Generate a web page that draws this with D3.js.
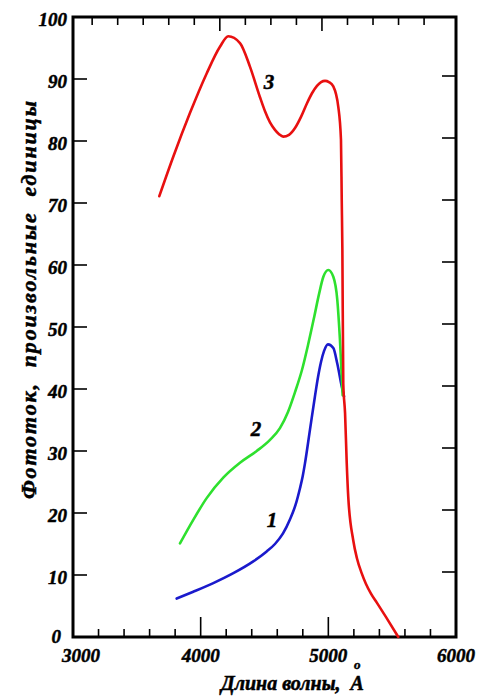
<!DOCTYPE html>
<html>
<head>
<meta charset="utf-8">
<script src="https://cdn.jsdelivr.net/npm/d3@7"></script>
<style>
  body { margin: 0; background: #fff; }
  text { font-family: "Liberation Serif", "Times New Roman", serif; font-weight: bold; font-style: italic; fill: #000; stroke: #000; stroke-width: 0.5px; }
</style>
</head>
<body>
<script>
var w = 477,
    h = 697;

// curve 1 (blue)
var wave1 = [3812, 3942, 4099, 4256, 4412, 4517, 4582, 4645, 4700, 4743, 4778, 4798, 4817, 4856, 4895, 4919, 4943, 4966, 4997, 5039, 5070, 5105, 5123];
var phot1 = [6.2, 7.3, 8.7, 10.3, 12.2, 13.8, 15.0, 16.7, 19.0, 21.3, 24.0, 25.8, 28.0, 33.4, 38.8, 41.9, 44.4, 46.1, 47.2, 46.6, 44.1, 40.4, 38.8];

// curve 2 (green)
var wave2 = [3838, 3942, 4047, 4177, 4308, 4439, 4543, 4621, 4684, 4739, 4794, 4841, 4888, 4927, 4961, 5000, 5039, 5070, 5091, 5112];
var phot2 = [15.1, 18.9, 22.4, 25.7, 28.1, 30.0, 31.8, 33.7, 36.3, 39.5, 43.1, 47.1, 51.5, 55.3, 58.1, 59.2, 58.1, 54.4, 47.9, 39.0];

// curve 3 (red)
var wave3 = [3676, 3786, 3916, 4047, 4151, 4216, 4308, 4386, 4464, 4504, 4543, 4582, 4614, 4647, 4692, 4739, 4786, 4833, 4872, 4911, 4943, 4974, 5005, 5039, 5078, 5099, 5105, 5110, 5117, 5131, 5144, 5156, 5195, 5224, 5261, 5295, 5334, 5381, 5452, 5548];
var phot3 = [71.1, 77.5, 84.5, 90.9, 95.2, 96.9, 95.8, 92.0, 87.1, 84.8, 83.0, 81.8, 81.1, 80.7, 81.0, 82.1, 83.9, 86.1, 87.7, 88.9, 89.5, 89.7, 89.5, 88.8, 85.5, 80.2, 70.5, 62.4, 40.9, 36.1, 28.1, 22.6, 15.6, 12.7, 10.3, 8.55, 7.0, 5.5, 3.2, 0.0];

var curveNames = ["1", "2", "3"];
var curveColors = ["#1a1acc", "#2ee02e", "#e81010"];
var labelWave = [4558, 4433, 4535];
var labelPhot = [17.7, 32.4, 88.4];

var yTickValues = [0, 10, 20, 30, 40, 50, 60, 70, 80, 90, 100];
var xTickLabels = [3000, 4000, 5000, 6000];
var xMinorTicks = [3200, 3400, 3600, 3800, 4200, 4400, 4600, 4800, 5200, 5400, 5600, 5800];
var topTicks = [3150, 3350, 3550, 3750, 3950, 4150, 4350, 4550, 4750, 4950, 5150, 5350, 5550, 5750];
var topMajor = [4150, 4950];

var xTitle = "Длина волны,  A";
var yTitle = "Фототок,  произвольные  единицы";

var svg = d3.select("body").append("svg").attr("width", w).attr("height", h);

var x = d3.scaleLinear().domain([3000, 6000]).range([73, 456]);
var y = d3.scaleLinear().domain([0, 100]).range([637, 17]);

var series = [
  d3.zip(wave1, phot1),
  d3.zip(wave2, phot2),
  d3.zip(wave3, phot3)
];

var line = d3.line()
  .x(function(d) { return x(d[0]); })
  .y(function(d) { return y(d[1]); })
  .curve(d3.curveMonotoneX);

// ticks
var tk = svg.append("g").attr("stroke", "#000").attr("stroke-width", 1.6);

tk.selectAll(".yl").data(yTickValues).enter().append("line")
  .attr("x1", x(3000)).attr("x2", x(3000) + 14)
  .attr("y1", function(d) { return y(d); }).attr("y2", function(d) { return y(d); });

tk.selectAll(".yr").data(yTickValues.slice(1, -1)).enter().append("line")
  .attr("x1", x(6000)).attr("x2", x(6000) - 14)
  .attr("y1", function(d) { return y(d) - 3; }).attr("y2", function(d) { return y(d) - 3; });

tk.selectAll(".xb").data(xTickLabels.slice(1, -1)).enter().append("line")
  .attr("x1", function(d) { return x(d); }).attr("x2", function(d) { return x(d); })
  .attr("y1", y(0)).attr("y2", y(0) - 20);

tk.selectAll(".xm").data(xMinorTicks).enter().append("line")
  .attr("x1", function(d) { return x(d); }).attr("x2", function(d) { return x(d); })
  .attr("y1", y(0)).attr("y2", y(0) - 8);

tk.selectAll(".xt").data(topTicks).enter().append("line")
  .attr("x1", function(d) { return x(d); }).attr("x2", function(d) { return x(d); })
  .attr("y1", y(100))
  .attr("y2", function(d) { return y(100) + (topMajor.indexOf(d) >= 0 ? 14 : 8); });

// frame
svg.append("rect")
  .attr("x", x(3000)).attr("y", y(100))
  .attr("width", x(6000) - x(3000)).attr("height", y(0) - y(100))
  .attr("fill", "none").attr("stroke", "#000").attr("stroke-width", 3);

// curves
svg.selectAll(".curve").data(series).enter().append("path")
  .attr("d", line)
  .attr("fill", "none")
  .attr("stroke", function(d, i) { return curveColors[i]; })
  .attr("stroke-width", 2.6)
  .attr("stroke-linejoin", "round")
  .attr("stroke-linecap", "round");

// curve labels
svg.selectAll(".clab").data(curveNames).enter().append("text")
  .attr("x", function(d, i) { return x(labelWave[i]); })
  .attr("y", function(d, i) { return y(labelPhot[i]); })
  .attr("text-anchor", "middle")
  .attr("font-size", "21px")
  .text(function(d) { return d; });

// tick labels
svg.selectAll(".ylab").data(yTickValues).enter().append("text")
  .attr("x", function(d) { return d == 0 ? 61 : 67; })
  .attr("y", function(d) { return y(d) + (d == 0 ? 6 : 9); })
  .attr("text-anchor", "end")
  .attr("font-size", "19px")
  .text(function(d) { return d; });

svg.selectAll(".xlab").data(xTickLabels).enter().append("text")
  .attr("x", function(d, i) { return x(d) + (i == 0 ? 8 : 0); })
  .attr("y", 662)
  .attr("text-anchor", "middle")
  .attr("font-size", "19px")
  .text(function(d) { return d; });

// axis titles
var xt = svg.append("text")
  .attr("x", 221).attr("y", 690)
  .attr("font-size", "20px")
  .style("white-space", "pre")
  .text(xTitle);
xt.append("tspan")
  .attr("dx", -10).attr("dy", -21)
  .attr("font-size", "13px")
  .text("o");

svg.append("text")
  .attr("transform", "translate(36,300) rotate(-90)")
  .attr("text-anchor", "middle")
  .attr("font-size", "22px")
  .attr("textLength", 398)
  .attr("lengthAdjust", "spacing")
  .style("white-space", "pre")
  .text(yTitle);
</script>
</body>
</html>
